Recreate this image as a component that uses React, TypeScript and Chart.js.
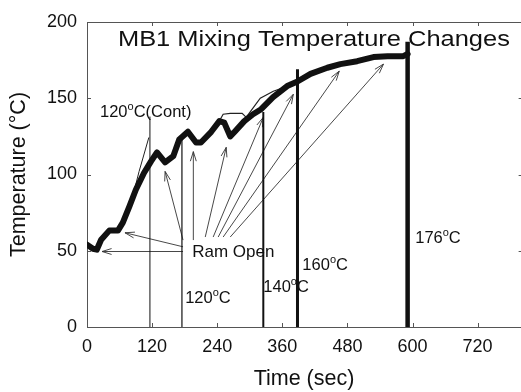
import React, { useEffect, useRef } from 'react';
import { Chart, registerables } from 'chart.js';

Chart.register(...registerables);

const FONT = '"Liberation Sans", Arial, Helvetica, sans-serif';

// axis ticks
const xTickValues = [0, 120, 240, 360, 480, 600, 720];
const yTickValues = [0, 50, 100, 150, 200];

// main (thick) temperature trace, time in sec, temp in C
const mainTime = [0, 11, 18, 26, 41, 57, 66, 78, 90, 105, 118, 129, 144, 159, 170, 186, 201, 210, 229, 244, 253, 264, 271, 290, 306, 321, 343, 369, 388, 412, 443, 467, 498, 528, 554, 583, 591];
const mainTemp = [54, 51.3, 50.7, 57.2, 63.2, 63.2, 68.4, 79, 90, 101, 108.6, 114.5, 108, 112, 123, 128, 121, 121, 128, 135, 134, 125, 127.6, 135, 139.5, 142.8, 150.7, 158, 161, 166, 170, 172.4, 174.3, 177, 177.6, 177.6, 179];

// 120C (Cont) thin trace
const contTime = [86, 96, 114];
const contTemp = [88, 102, 124.3];

// thin trace diverging around 250-370 s
const bumpTime = [243.7, 251, 264, 286, 293.5, 302.8, 319.4, 343.4, 369.2];
const bumpTemp = [134.9, 139.5, 140.1, 140.1, 137.5, 142.1, 150, 154.6, 157.9];

// dump (vertical drop) lines: 120C(Cont), 120C, 140C, 160C, 176C
const dumpTime = [116, 175, 325, 388, 591];
const dumpTop = [138, 124, 141, 169, 187];
const dumpWidth = [1, 1.2, 2, 3, 4.5];

// "Ram Open" arrows (tail -> head), data units
const arrowTailTime = [177, 177, 177, 196, 218, 232.6, 241.8, 251, 264];
const arrowTailTemp = [49.5, 52.6, 57, 57, 59, 59, 59, 59, 59];
const arrowHeadTime = [27.7, 70, 144, 196, 256.6, 325, 380.3, 465, 546.5];
const arrowHeadTemp = [49.5, 61.8, 102, 115, 117.8, 137.5, 152.6, 167.8, 172.4];

// text annotations ("^" marks a superscript character)
const noteText = ['120^oC(Cont)', 'Ram Open', '120^oC', '140^oC', '160^oC', '176^oC'];
const noteTime = [24, 194, 181, 325, 397, 605];
const noteTemp = [137.5, 46, 15.8, 23, 37.5, 55.3];

const titleText = 'MB1 Mixing Temperature Changes';

function drawSup(ctx: CanvasRenderingContext2D, str: string, x: number, y: number, size: number) {
  const parts = str.split('^');
  let cx = x;
  parts.forEach((p, i) => {
    let rest = p;
    if (i > 0) {
      const s = p.charAt(0);
      rest = p.slice(1);
      ctx.font = `${Math.round(size * 0.68)}px ${FONT}`;
      ctx.fillText(s, cx, y - size * 0.42);
      cx += ctx.measureText(s).width;
    }
    ctx.font = `${size}px ${FONT}`;
    ctx.fillText(rest, cx, y);
    cx += ctx.measureText(rest).width;
  });
}

const decorPlugin = {
  id: 'decor',
  beforeDatasetsDraw(chart: any) {
    const { ctx, chartArea } = chart;
    const xs = chart.scales.x;
    const ys = chart.scales.y;
    ctx.save();
    // frame (left, top, bottom)
    ctx.strokeStyle = '#555';
    ctx.lineWidth = 1;
    ctx.beginPath();
    ctx.moveTo(chartArea.left + 0.5, chartArea.top + 0.5);
    ctx.lineTo(chartArea.left + 0.5, chartArea.bottom + 0.5);
    ctx.moveTo(chartArea.left, chartArea.top + 0.5);
    ctx.lineTo(chartArea.right + 5, chartArea.top + 0.5);
    ctx.moveTo(chartArea.left, chartArea.bottom + 0.5);
    ctx.lineTo(chartArea.right + 5, chartArea.bottom + 0.5);
    // inward ticks
    xTickValues.forEach((v) => {
      const px = Math.round(xs.getPixelForValue(v)) + 0.5;
      ctx.moveTo(px, chartArea.bottom);
      ctx.lineTo(px, chartArea.bottom - 4);
      ctx.moveTo(px, chartArea.top);
      ctx.lineTo(px, chartArea.top + 4);
    });
    const rightEdge = xs.getPixelForValue(803);
    yTickValues.forEach((v) => {
      const py = Math.round(ys.getPixelForValue(v)) + 0.5;
      ctx.moveTo(chartArea.left, py);
      ctx.lineTo(chartArea.left + 4, py);
      ctx.moveTo(rightEdge, py);
      ctx.lineTo(rightEdge - 4, py);
    });
    ctx.stroke();

    // title inside plot
    ctx.fillStyle = '#111';
    ctx.textBaseline = 'alphabetic';
    ctx.textAlign = 'left';
    ctx.font = `22px ${FONT}`;
    const w = ctx.measureText(titleText).width;
    const sx = 392 / w;
    ctx.save();
    ctx.translate(xs.getPixelForValue(57), ys.getPixelForValue(184));
    ctx.scale(sx, 1);
    ctx.fillText(titleText, 0, 0);
    ctx.restore();

    // notes
    noteText.forEach((t, i) => {
      const size = t === 'Ram Open' ? 17 : 16.5;
      drawSup(ctx, t, xs.getPixelForValue(noteTime[i]), ys.getPixelForValue(noteTemp[i]), size);
    });

    // arrows
    ctx.strokeStyle = '#333';
    ctx.lineWidth = 0.9;
    arrowTailTime.forEach((_, i) => {
      const x0 = xs.getPixelForValue(arrowTailTime[i]);
      const y0 = ys.getPixelForValue(arrowTailTemp[i]);
      const x1 = xs.getPixelForValue(arrowHeadTime[i]);
      const y1 = ys.getPixelForValue(arrowHeadTemp[i]);
      const a = Math.atan2(y1 - y0, x1 - x0);
      const L = 10;
      ctx.beginPath();
      ctx.moveTo(x0, y0);
      ctx.lineTo(x1, y1);
      ctx.moveTo(x1 - L * Math.cos(a - 0.3), y1 - L * Math.sin(a - 0.3));
      ctx.lineTo(x1, y1);
      ctx.lineTo(x1 - L * Math.cos(a + 0.3), y1 - L * Math.sin(a + 0.3));
      ctx.stroke();
    });
    ctx.restore();
  },
};

export default function App() {
  const ref = useRef<HTMLCanvasElement | null>(null);
  useEffect(() => {
    document.body.style.margin = '0';
    if (!ref.current) return;
    const pts = (t: number[], v: number[]) => t.map((x, i) => ({ x, y: v[i] }));
    const datasets: any[] = [
      {
        data: pts(mainTime, mainTemp),
        borderColor: '#111',
        borderWidth: 6,
        borderJoinStyle: 'round',
        borderCapStyle: 'round',
        pointRadius: 0,
        tension: 0,
      },
      {
        data: pts(contTime, contTemp),
        borderColor: '#222',
        borderWidth: 1,
        pointRadius: 0,
      },
      {
        data: pts(bumpTime, bumpTemp),
        borderColor: '#222',
        borderWidth: 1.2,
        pointRadius: 0,
      },
      ...dumpTime.map((t, i) => ({
        data: [
          { x: t, y: 0 },
          { x: t, y: dumpTop[i] },
        ],
        borderColor: '#111',
        borderWidth: dumpWidth[i],
        borderCapStyle: 'butt',
        pointRadius: 0,
      })),
    ];
    const chart = new Chart(ref.current, {
      type: 'line',
      data: { datasets },
      plugins: [decorPlugin],
      options: {
        animation: false,
        responsive: false,
        maintainAspectRatio: false,
        layout: { padding: { top: 22, right: 0, left: 0, bottom: 0 } },
        plugins: { legend: { display: false }, tooltip: { enabled: false } },
        elements: { line: { fill: false } },
        scales: {
          x: {
            type: 'linear',
            min: 0,
            max: 800,
            grid: { display: false, drawTicks: false },
            border: { display: false },
            ticks: {
              stepSize: 120,
              includeBounds: false,
              padding: 9,
              color: '#111',
              font: { family: FONT, size: 18 },
              callback: (v: any) => (Number(v) <= 720 ? String(v) : ''),
            },
            title: {
              display: true,
              text: 'Time (sec)',
              color: '#111',
              font: { family: FONT, size: 21.5 },
              padding: { top: 0, bottom: 0 },
            },
            afterFit: (s: any) => {
              s.height = 65;
            },
          },
          y: {
            type: 'linear',
            min: 0,
            max: 200,
            grid: { display: false, drawTicks: false },
            border: { display: false },
            ticks: {
              stepSize: 50,
              padding: 10,
              color: '#111',
              font: { family: FONT, size: 18 },
            },
            title: {
              display: true,
              text: 'Temperature (°C)',
              color: '#111',
              font: { family: FONT, size: 21.5 },
              padding: { top: 6, bottom: 0 },
            },
            afterFit: (s: any) => {
              s.width = 87;
            },
          },
        },
      },
    });
    return () => chart.destroy();
  }, []);
  return (
    <div style={{ position: 'fixed', left: 0, top: 0, width: 521, height: 392, background: '#fff' }}>
      <canvas ref={ref} width={521} height={392} />
    </div>
  );
}
